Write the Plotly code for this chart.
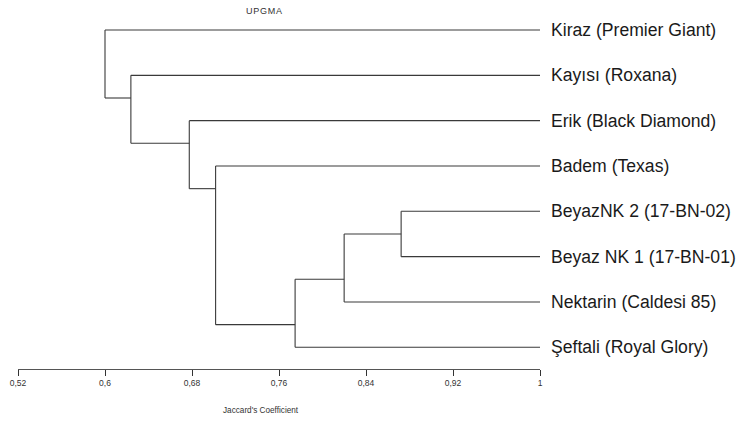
import plotly.graph_objects as go

# Leaves in display order (top to bottom)
leaf_labels = [
    "Kiraz (Premier Giant)",
    "Kayısı (Roxana)",
    "Erik (Black Diamond)",
    "Badem (Texas)",
    "BeyazNK 2 (17-BN-02)",
    "Beyaz NK 1 (17-BN-01)",
    "Nektarin (Caldesi 85)",
    "Şeftali (Royal Glory)",
]
# Merges: (top child, bottom child) -> new cluster ids 8, 9, ...
merge_children = [(4, 5), (8, 6), (9, 7), (3, 10), (2, 11), (1, 12), (0, 13)]
merge_heights = [0.8723, 0.8199, 0.7748, 0.7017, 0.6775, 0.6238, 0.600]

tick_vals = [0.52, 0.6, 0.68, 0.76, 0.84, 0.92, 1.0]
tick_text = ["0,52", "0,6", "0,68", "0,76", "0,84", "0,92", "1"]

n = len(leaf_labels)
node_x = {i: 1.0 for i in range(n)}
node_y = {i: float(i) for i in range(n)}
node_leaves = {i: [i] for i in range(n)}

xs, ys = [], []
for k, ((a, b), h) in enumerate(zip(merge_children, merge_heights)):
    nid = n + k
    for c in (a, b):
        xs += [node_x[c], h, None]
        ys += [node_y[c], node_y[c], None]
    xs += [h, h, None]
    ys += [node_y[a], node_y[b], None]
    node_leaves[nid] = node_leaves[a] + node_leaves[b]
    node_x[nid] = h
    node_y[nid] = (max(node_leaves[a]) + min(node_leaves[b])) / 2.0

line_color = "#3a3a3a"
fig = go.Figure()
fig.add_trace(go.Scatter(x=xs, y=ys, mode="lines",
                         line=dict(color=line_color, width=1.1),
                         hoverinfo="skip", showlegend=False))

font_family = "Arial, Liberation Sans, sans-serif"
annotations = []
for i, lab in enumerate(leaf_labels):
    annotations.append(dict(x=1.0, y=i, xref="x", yref="y", text=lab,
                            showarrow=False, xanchor="left", yanchor="middle",
                            xshift=9, font=dict(family=font_family, size=17.6, color="#1a1a1a")))
annotations.append(dict(x=(261.5 - 14) / 526, y=(369 - 11) / 359, xref="paper", yref="paper",
                        text="U\u200aP\u200aG\u200aM\u200aA", showarrow=False,
                        xanchor="center", yanchor="middle",
                        font=dict(family=font_family, size=9, color="#333")))
annotations.append(dict(x=(259 - 14) / 526, y=(369 - 410) / 359, xref="paper", yref="paper",
                        text="Jaccard's Coefficient", showarrow=False,
                        xanchor="center", yanchor="middle",
                        font=dict(family=font_family, size=8.2, color="#333")))

fig.update_layout(
    width=737, height=421,
    margin=dict(l=14, r=197, t=10, b=52),
    paper_bgcolor="white", plot_bgcolor="white",
    showlegend=False,
    annotations=annotations,
    xaxis=dict(range=[0.52, 1.0], tickvals=tick_vals, ticktext=tick_text,
               showgrid=False, zeroline=False, showline=True,
               linecolor="#555", linewidth=1.2,
               ticks="outside", ticklen=6, tickcolor="#333", tickwidth=1.2,
               tickfont=dict(family=font_family, size=8.5, color="#333")),
    yaxis=dict(range=[(369 - 30) / 45.33, (10 - 30) / 45.33],
               showgrid=False, zeroline=False, showline=False,
               showticklabels=False, ticks=""),
)
fig.write_html("out.html", config={"displayModeBar": False},
               post_script="document.body.style.margin='0';document.body.style.overflow='hidden';")
